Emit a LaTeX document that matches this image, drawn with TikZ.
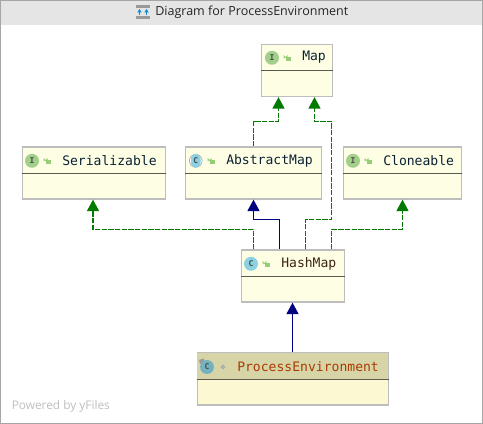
\documentclass[tikz,border=0pt]{standalone}
\usepackage{fontspec}
\setmainfont{Open Sans}
\setmonofont{DejaVu Sans Mono}
\usetikzlibrary{arrows.meta}
\definecolor{boxfill}{HTML}{FEFEE4}
\definecolor{boxline}{HTML}{BDBDBD}
\definecolor{headfill}{HTML}{D7D4A8}
\definecolor{lowfill}{HTML}{FBF8D2}
\definecolor{divline}{HTML}{5A5A50}
\definecolor{gedge}{HTML}{007A00}
\definecolor{bedge}{HTML}{000080}
\definecolor{ibadge}{HTML}{A2D08A}
\definecolor{cbadge}{HTML}{8AD2E2}
\definecolor{lockc}{HTML}{96CE78}
\definecolor{txtc}{HTML}{0A2233}
\definecolor{hashc}{HTML}{3E2410}
\definecolor{procc}{HTML}{A83C00}
\tikzset{
  x=0.75pt,y=-0.75pt,
  classbox/.style={draw=boxline,fill=boxfill,line width=0.9pt,minimum height=39pt,inner sep=0pt,anchor=north west},
  classtext/.style={font=\ttfamily\fontsize{9.8}{11}\selectfont,text=txtc,anchor=west,inner sep=0pt},
  realize/.style={draw=gedge,line width=0.8pt,dash pattern=on 4pt off 1pt,-{Triangle[length=8.5pt,width=9pt,fill=gedge,sep=0pt]}},
  extend/.style={draw=bedge,line width=0.8pt,-{Triangle[length=8.5pt,width=9pt,fill=bedge]}},
  divider/.style={draw=divline,line width=0.75pt},
  badge/.style={circle,minimum size=10.5pt,inner sep=0pt,font=\ttfamily\bfseries\fontsize{6}{6}\selectfont,text=black!70},
}
\begin{document}
\begin{tikzpicture}
\useasboundingbox (0,0) rectangle (483,424);
\fill[white] (0,0) rectangle (483,424);
\fill[black!10] (0,0) rectangle (483,25);
\draw[black!35,line width=0.8pt] (0.5,0.5) rectangle (482.5,423.5);
% title icon
\fill[black!40] (136,5) rectangle (150,8);
\fill[black!40] (136,16) rectangle (150,19);
\draw[cyan!70!blue,line width=0.6pt,-{Triangle[length=2.5pt,width=3pt]}] (139.5,15) -- (139.5,9);
\draw[cyan!70!blue,line width=0.6pt,-{Triangle[length=2.5pt,width=3pt]}] (146.5,15) -- (146.5,9);
\node[font=\fontsize{9.4}{11}\selectfont,text=black!85,anchor=west,inner sep=0pt] (title) at (155,12.7) {Diagram for ProcessEnvironment};
% boxes
\node[classbox,minimum width=53.25pt] (map) at (261,44) {};
\node[classbox,minimum width=107.25pt] (ser) at (21.5,146.5) {};
\node[classbox,minimum width=102pt] (abs) at (185,146.5) {};
\node[classbox,minimum width=89pt] (clo) at (342.5,146.5) {};
\node[classbox,minimum width=77.6pt] (hash) at (240.5,249.5) {};
\node[classbox,minimum width=143.6pt,fill=lowfill] (proc) at (196.5,352.5) {};
\fill[headfill] (197,353) rectangle (387.5,380);
% dividers
\draw[divider] (map.west |- 0,71) -- (map.east |- 0,71);
\draw[divider] (ser.west |- 0,174) -- (ser.east |- 0,174);
\draw[divider] (abs.west |- 0,174) -- (abs.east |- 0,174);
\draw[divider] (clo.west |- 0,174) -- (clo.east |- 0,174);
\draw[divider] (hash.west |- 0,277) -- (hash.east |- 0,277);
\draw[divider] (proc.west |- 0,380) -- (proc.east |- 0,380);
% badges
\node[badge,fill=ibadge] (bm) at (272,57.8) {I};
\node[badge,fill=ibadge] (bs) at (32,160.8) {I};
\draw[black!35,line width=0.5pt,fill=white] (195.8,160.8) circle[radius=6.4];
\fill[cbadge] (195.8,160.8) ellipse[x radius=5,y radius=7];
\node[badge] (ba) at (195.8,160.8) {C};
\node[badge,fill=ibadge] (bc) at (353,160.8) {I};
\node[badge,fill=cbadge] (bh) at (251,263.8) {C};
\fill[black!40] (199,360) -- (204,358.5) -- (204,364) -- (200,364) -- cycle;
\node[badge,fill=cbadge!85!black] (bp) at (207,367) {C};
% lock icons
\foreach \lx/\ly in {287/57.5,47/160.5,211/160.5,368/160.5,266/263.5}{
  \fill[lockc] (\lx-1.5,\ly) rectangle (\lx+4,\ly+4);
  \draw[lockc,line width=0.55pt] (\lx-3,\ly+1) -- (\lx-3,\ly-1.5) arc[start angle=180,end angle=0,radius=1.6] -- (\lx+0.2,\ly);
}
\draw[black!35,line width=0.8pt] (223,367) circle[radius=1.7];
% labels
\node[classtext] (tm) at (302,57.5) {Map};
\node[classtext] (ts) at (62,160.5) {Serializable};
\node[classtext] (ta) at (226,160.5) {AbstractMap};
\node[classtext] (tc) at (383,160.5) {Cloneable};
\node[classtext,text=hashc] (th) at (281,263.5) {HashMap};
\node[classtext,text=procc] (tp) at (237,366.5) {ProcessEnvironment};
\node[font=\fontsize{8.9}{10}\selectfont,text=black!25,anchor=west,inner sep=0pt] (pw) at (11.5,406.5) {Powered by yFiles};
% connectors
\draw[realize] (abs.north west -| 253.5,0) |- (278.5,121.5) -- (map.south -| 278.5,0);
\draw[realize] (hash.north west -| 305.5,0) |- (331.5,219.5) |- (314.5,121.5) -- (map.south -| 314.5,0);
\draw[realize] (hash.north west -| 331.5,0) |- (402.5,229.5) -- (clo.south -| 402.5,0);
\draw[realize] (hash.north west -| 253.5,0) |- (93,229.5) -- (ser.south -| 93,0);
\draw[extend] (hash.north west -| 279.5,0) |- (253.5,219.5) -- (abs.south -| 253.5,0);
\draw[extend] (proc.north -| 292.5,0) -- (hash.south -| 292.5,0);
\end{tikzpicture}
\end{document}
